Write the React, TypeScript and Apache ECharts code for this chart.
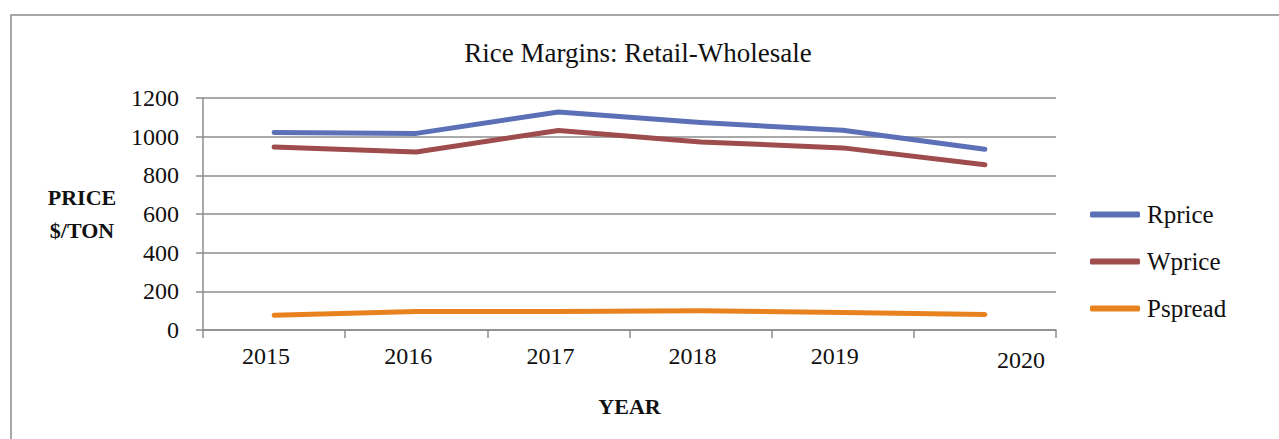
import React, { useEffect, useRef } from "react";
import * as echarts from "echarts";

const years = ["2015", "2016", "2017", "2018", "2019", "2020"];
const rprice = [1022, 1017, 1128, 1073, 1033, 935];
const wprice = [946, 921, 1032, 973, 942, 855];
const pspread = [76, 96, 96, 100, 91, 80];
const yTicks = { min: 0, max: 1200, interval: 200 };

const FONT = "Liberation Serif";
const GRAY = "#8c8c8c";

export default function App() {
  const ref = useRef<HTMLDivElement>(null);
  useEffect(() => {
    if (!ref.current) return;
    const chart = echarts.init(ref.current, null, { renderer: "svg" });
    const mk = (name: string, data: number[], color: string) => ({
      name,
      type: "line",
      data,
      showSymbol: false,
      symbol: "none",
      lineStyle: { color, width: 5, cap: "round", join: "round" },
      itemStyle: { color },
    });
    chart.setOption({
      animation: false,
      backgroundColor: "#ffffff",
      textStyle: { fontFamily: FONT },
      title: {
        text: "Rice Margins: Retail-Wholesale",
        left: 633,
        top: 34,
        textAlign: "center",
        textStyle: { fontFamily: FONT, fontSize: 27, fontWeight: "normal", color: "#111" },
      },
      graphic: [
        {
          type: "rect",
          shape: { x: 11, y: 15, width: 1400, height: 600 },
          style: { fill: "none", stroke: GRAY, lineWidth: 1.5 },
          silent: true,
        },
      ],
      grid: { left: 203, right: 223, top: 98, bottom: 109 },
      legend: {
        orient: "vertical",
        left: 1085,
        top: 197,
        itemWidth: 50,
        itemHeight: 6,
        itemGap: 22,
        icon: "roundRect",
        textStyle: { fontFamily: FONT, fontSize: 25, color: "#111", padding: [0, 0, 0, 2] },
        data: ["Rprice", "Wprice", "Pspread"],
      },
      xAxis: {
        type: "category",
        data: years,
        boundaryGap: true,
        name: "YEAR",
        nameLocation: "middle",
        nameGap: 65,
        nameTextStyle: { fontFamily: FONT, fontSize: 22, fontWeight: "bold", color: "#111" },
        axisLine: { show: true, lineStyle: { color: GRAY, width: 1.5 } },
        axisTick: { show: true, length: 8, lineStyle: { color: GRAY, width: 1.5 } },
        axisLabel: {
          margin: 14,
          fontFamily: FONT,
          fontSize: 24,
          color: "#111",
          formatter: (v: string, i: number) => (i === years.length - 1 ? `{last|${v}}` : `{n|${v}}`),
          rich: {
            n: { fontFamily: FONT, fontSize: 24, color: "#111", padding: [0, 16, 0, 0] },
            last: { fontFamily: FONT, fontSize: 24, color: "#111", padding: [4, 0, 0, 72] },
          },
        },
        splitLine: { show: false },
      },
      yAxis: {
        type: "value",
        min: yTicks.min,
        max: yTicks.max,
        interval: yTicks.interval,
        name: "PRICE\n$/TON",
        nameLocation: "middle",
        nameRotate: 0,
        nameGap: 121,
        nameTextStyle: {
          fontFamily: FONT,
          fontSize: 22,
          fontWeight: "bold",
          color: "#111",
          lineHeight: 33,
          align: "center",
        },
        axisLine: { show: true, lineStyle: { color: GRAY, width: 1.5 } },
        axisTick: { show: true, length: 7, lineStyle: { color: GRAY, width: 1.5 } },
        axisLabel: {
          margin: 24,
          fontFamily: FONT,
          fontSize: 24,
          color: "#111",
          formatter: (v: number) => String(v),
        },
        splitLine: { show: true, lineStyle: { color: GRAY, width: 1.5 } },
      },
      series: [
        mk("Rprice", rprice, "#5b70b6"),
        mk("Wprice", wprice, "#9e4c4c"),
        mk("Pspread", pspread, "#e8821f"),
      ],
    });
    return () => chart.dispose();
  }, []);
  return (
    <div
      ref={ref}
      style={{ position: "fixed", left: 0, top: 0, width: 1279, height: 439, background: "#fff" }}
    />
  );
}
